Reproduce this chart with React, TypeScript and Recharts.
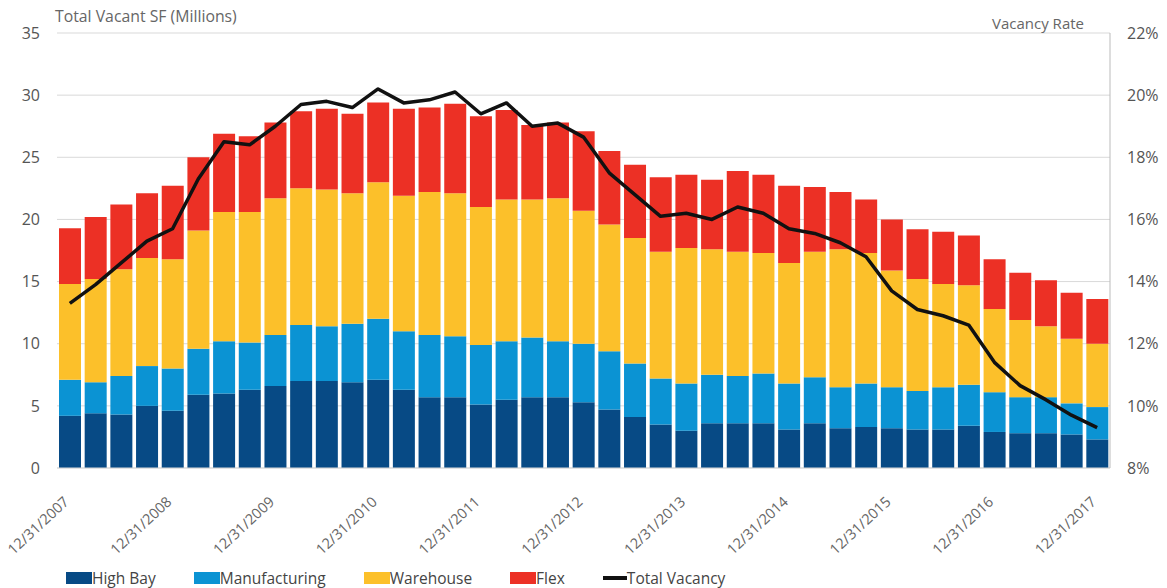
import {
  ComposedChart, Bar, Line, XAxis, YAxis, CartesianGrid, Legend,
} from 'recharts'

const quarters = [
  '12/31/2007', '3/31/2008', '6/30/2008', '9/30/2008',
  '12/31/2008', '3/31/2009', '6/30/2009', '9/30/2009',
  '12/31/2009', '3/31/2010', '6/30/2010', '9/30/2010',
  '12/31/2010', '3/31/2011', '6/30/2011', '9/30/2011',
  '12/31/2011', '3/31/2012', '6/30/2012', '9/30/2012',
  '12/31/2012', '3/31/2013', '6/30/2013', '9/30/2013',
  '12/31/2013', '3/31/2014', '6/30/2014', '9/30/2014',
  '12/31/2014', '3/31/2015', '6/30/2015', '9/30/2015',
  '12/31/2015', '3/31/2016', '6/30/2016', '9/30/2016',
  '12/31/2016', '3/31/2017', '6/30/2017', '9/30/2017',
  '12/31/2017',
]

// millions of SF
const highBay = [
  4.2, 4.4, 4.3, 5.0, 4.6, 5.9, 6.0, 6.3, 6.6, 7.0, 7.0, 6.9, 7.1, 6.3, 5.7, 5.7,
  5.1, 5.5, 5.7, 5.7, 5.3, 4.7, 4.1, 3.5, 3.0, 3.6, 3.6, 3.6, 3.1, 3.6, 3.2, 3.3,
  3.2, 3.1, 3.1, 3.4, 2.9, 2.8, 2.8, 2.7, 2.3,
]
const manufacturing = [
  2.9, 2.5, 3.1, 3.2, 3.4, 3.7, 4.2, 3.8, 4.1, 4.5, 4.4, 4.7, 4.9, 4.7, 5.0, 4.9,
  4.8, 4.7, 4.8, 4.5, 4.7, 4.7, 4.3, 3.7, 3.8, 3.9, 3.8, 4.0, 3.7, 3.7, 3.3, 3.5,
  3.3, 3.1, 3.4, 3.3, 3.2, 2.9, 2.9, 2.5, 2.6,
]
const warehouse = [
  7.7, 8.3, 8.6, 8.7, 8.8, 9.5, 10.4, 10.5, 11.0, 11.0, 11.0, 10.5, 11.0, 10.9, 11.5, 11.5,
  11.1, 11.4, 11.1, 11.5, 10.7, 10.2, 10.1, 10.2, 10.9, 10.1, 10.0, 9.7, 9.7, 10.1, 11.1, 10.5,
  9.4, 9.0, 8.3, 8.0, 6.7, 6.2, 5.7, 5.2, 5.1,
]
const flex = [
  4.5, 5.0, 5.2, 5.2, 5.9, 5.9, 6.3, 6.1, 6.1, 6.2, 6.5, 6.4, 6.4, 7.0, 6.8, 7.2,
  7.3, 7.2, 6.0, 6.1, 6.4, 5.9, 5.9, 6.0, 5.9, 5.6, 6.5, 6.3, 6.2, 5.2, 4.6, 4.3,
  4.1, 4.0, 4.2, 4.0, 4.0, 3.8, 3.7, 3.7, 3.6,
]
// percent
const totalVacancy = [
  13.3, 13.9, 14.6, 15.3, 15.7, 17.3, 18.5, 18.4, 19.0, 19.7, 19.8, 19.6, 20.2, 19.75, 19.85, 20.1,
  19.4, 19.75, 19.0, 19.1, 18.65, 17.5, 16.8, 16.1, 16.2, 16.0, 16.4, 16.2, 15.7, 15.55, 15.25, 14.8,
  13.7, 13.1, 12.9, 12.6, 11.4, 10.65, 10.2, 9.7, 9.3,
]

const leftTicks = [0, 5, 10, 15, 20, 25, 30, 35]
const rightTicks = [8, 10, 12, 14, 16, 18, 20, 22]
const legendOrder = ['High Bay', 'Manufacturing', 'Warehouse', 'Flex', 'Total Vacancy']

const data = quarters.map((q, i) => ({
  date: q,
  highBay: highBay[i],
  manufacturing: manufacturing[i],
  warehouse: warehouse[i],
  flex: flex[i],
  vacancy: totalVacancy[i],
}))

const FONT = '"Open Sans", Lato, sans-serif'
const TICK = { fontSize: 16, fill: '#555', fontFamily: FONT }

function DateTick({ x, y, payload }: any) {
  return (
    <g transform={`translate(${x},${y + 27})`}>
      <text textAnchor="end" transform="rotate(-43)" fontSize={14.5} fill="#666" fontFamily={FONT}>
        {payload.value}
      </text>
    </g>
  )
}

function LegendBox({ payload }: any) {
  const items = [...(payload || [])].sort(
    (a: any, b: any) => legendOrder.indexOf(a.value) - legendOrder.indexOf(b.value),
  )
  return (
    <div style={{ display: 'flex', alignItems: 'center', paddingLeft: 56, fontFamily: FONT, fontSize: 15.5, color: '#444', lineHeight: '20px' }}>
      {items.map((p: any) => (
        <div key={p.value} style={{ display: 'flex', alignItems: 'center', marginRight: 38 }}>
          {p.type === 'line' ? (
            <span style={{ display: 'inline-block', width: 24, height: 4, background: '#111' }} />
          ) : (
            <span style={{ display: 'inline-block', width: 26, height: 12, background: p.color }} />
          )}
          <span>{p.value}</span>
        </div>
      ))}
    </div>
  )
}

export default function App() {
  return (
    <div style={{ position: 'absolute', left: 0, top: 0 }}>
      <ComposedChart
        width={1167}
        height={588}
        data={data}
        margin={{ top: 33, right: 7, left: 10, bottom: 0 }}
      >
        <CartesianGrid vertical={false} stroke="#d9d9d9" yAxisId="left" />
        <XAxis
          dataKey="date"
          interval={3}
          tick={<DateTick />}
          tickLine={false}
          axisLine={{ stroke: '#d9d9d9' }}
          height={100}
        />
        <YAxis
          yAxisId="left"
          domain={[0, 35]}
          ticks={leftTicks}
          width={47}
          tickSize={0}
          tickMargin={17}
          axisLine={false}
          tick={TICK}
          label={{
            content: ({ viewBox }: any) => (
              <text x={viewBox.x + 45} y={viewBox.y - 11} fontSize={15.8} fill="#666" fontFamily={FONT}>
                Total Vacant SF (Millions)
              </text>
            ),
          }}
        />
        <YAxis
          yAxisId="right"
          orientation="right"
          domain={[8, 22]}
          ticks={rightTicks}
          width={50}
          tickSize={0}
          tickMargin={17}
          axisLine={{ stroke: '#bbb' }}
          tick={TICK}
          tickFormatter={(v) => `${v}%`}
          label={{
            content: ({ viewBox }: any) => (
              <text x={viewBox.x - 26} y={viewBox.y - 4} textAnchor="end" fontSize={15} fill="#666" fontFamily={FONT}>
                Vacancy Rate
              </text>
            ),
          }}
        />
        <Legend verticalAlign="bottom" content={<LegendBox />} />
        <Bar yAxisId="left" dataKey="highBay" name="High Bay" stackId="a" fill="#074a85" barSize={22} isAnimationActive={false} />
        <Bar yAxisId="left" dataKey="manufacturing" name="Manufacturing" stackId="a" fill="#0b93d3" barSize={22} isAnimationActive={false} />
        <Bar yAxisId="left" dataKey="warehouse" name="Warehouse" stackId="a" fill="#fcc02a" barSize={22} isAnimationActive={false} />
        <Bar yAxisId="left" dataKey="flex" name="Flex" stackId="a" fill="#ec3025" barSize={22} isAnimationActive={false} />
        <Line
          yAxisId="right"
          dataKey="vacancy"
          name="Total Vacancy"
          type="linear"
          stroke="#111"
          strokeWidth={3.5}
          strokeLinejoin="round"
          dot={false}
          legendType="line"
          isAnimationActive={false}
        />
      </ComposedChart>
    </div>
  )
}
